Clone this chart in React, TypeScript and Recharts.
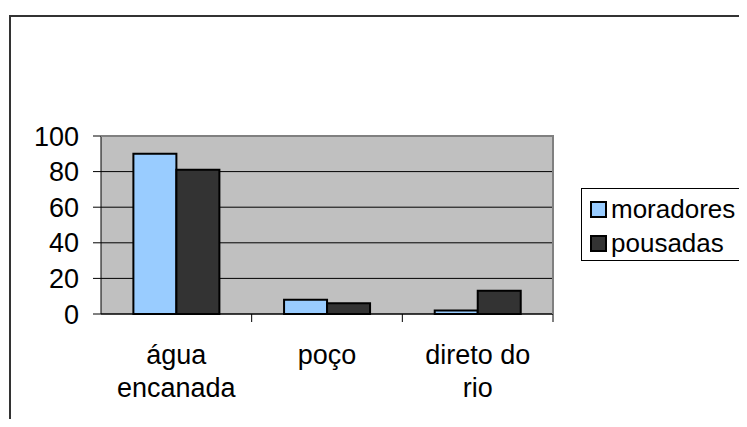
import React from "react";
import { BarChart, Bar, XAxis, YAxis, CartesianGrid } from "recharts";

const categories = ["água\nencanada", "poço", "direto do\nrio"];
const moradores = [90, 8, 2];
const pousadas = [81, 6, 13];
const yTicks = [0, 20, 40, 60, 80, 100];

const series = [
  { key: "moradores", label: "moradores", color: "#99CCFF" },
  { key: "pousadas", label: "pousadas", color: "#333333" },
];

const data = categories.map((name, i) => ({
  name,
  moradores: moradores[i],
  pousadas: pousadas[i],
}));

const FONT = "Arial, 'Liberation Sans', sans-serif";
const FS = 27;

// category label split over lines, with a tick mark at the right edge of each band
function CategoryTick(props: any) {
  const { x, y, payload } = props;
  const half = payload.offset ?? 0;
  const lines = String(payload.value).split("\n");
  return (
    <g>
      <line x1={x + half} x2={x + half} y1={y} y2={y + 8} stroke="#000" strokeWidth={1} />
      <text textAnchor="middle" fontSize={FS} fontFamily={FONT} fill="#000">
        {lines.map((l, i) => (
          <tspan key={i} x={x} y={y + 50 + i * 33}>
            {l}
          </tspan>
        ))}
      </text>
    </g>
  );
}

function LegendBox() {
  return (
    <div
      style={{
        position: "absolute",
        left: 581,
        top: 188,
        width: 172,
        height: 73,
        border: "1px solid #000",
        background: "#fff",
        boxSizing: "border-box",
        paddingTop: 3,
        paddingLeft: 8,
        fontFamily: FONT,
        fontSize: 26,
      }}
    >
      {series.map((s) => (
        <div key={s.key} style={{ display: "flex", alignItems: "center", height: 34 }}>
          <span
            style={{
              width: 17,
              height: 17,
              boxSizing: "border-box",
              border: "2px solid #000",
              background: s.color,
              marginRight: 4,
              flexShrink: 0,
            }}
          />
          <span style={{ color: "#000", lineHeight: "34px", whiteSpace: "nowrap" }}>{s.label}</span>
        </div>
      ))}
    </div>
  );
}

export default function App() {
  return (
    <div
      style={{
        position: "relative",
        width: 747,
        height: 427,
        margin: -8,
        overflow: "hidden",
        background: "#fff",
      }}
    >
      <div
        style={{
          position: "absolute",
          left: 9,
          top: 15,
          width: 1000,
          height: 1000,
          borderTop: "2px solid #333",
          borderLeft: "2px solid #333",
        }}
      />
      <BarChart
        width={747}
        height={427}
        data={data}
        margin={{ top: 136, right: 194, bottom: 63, left: 21 }}
        barCategoryGap="21.5%"
        barGap={0}
      >
        <CartesianGrid vertical={false} fill="#C0C0C0" stroke="#000" strokeWidth={1} />
        <XAxis
          dataKey="name"
          height={50}
          tickSize={0}
          tickMargin={0}
          tickLine={false}
          axisLine={{ stroke: "#000", strokeWidth: 1 }}
          tick={<CategoryTick />}
          interval={0}
        />
        <YAxis
          width={80}
          domain={[0, 100]}
          ticks={yTicks}
          interval={0}
          tickSize={8}
          tickMargin={14}
          axisLine={{ stroke: "#000", strokeWidth: 1 }}
          tickLine={{ stroke: "#000" }}
          tick={{ fontSize: FS, fill: "#000", fontFamily: FONT }}
        />
        {series.map((s) => (
          <Bar
            key={s.key}
            dataKey={s.key}
            fill={s.color}
            stroke="#000"
            strokeWidth={2}
            isAnimationActive={false}
          />
        ))}
      </BarChart>
      <div
        style={{
          position: "absolute",
          left: 101,
          top: 135,
          width: 453,
          height: 179,
          boxSizing: "border-box",
          borderTop: "2px solid #808080",
          borderRight: "2px solid #808080",
          pointerEvents: "none",
        }}
      />
      <LegendBox />
    </div>
  );
}
